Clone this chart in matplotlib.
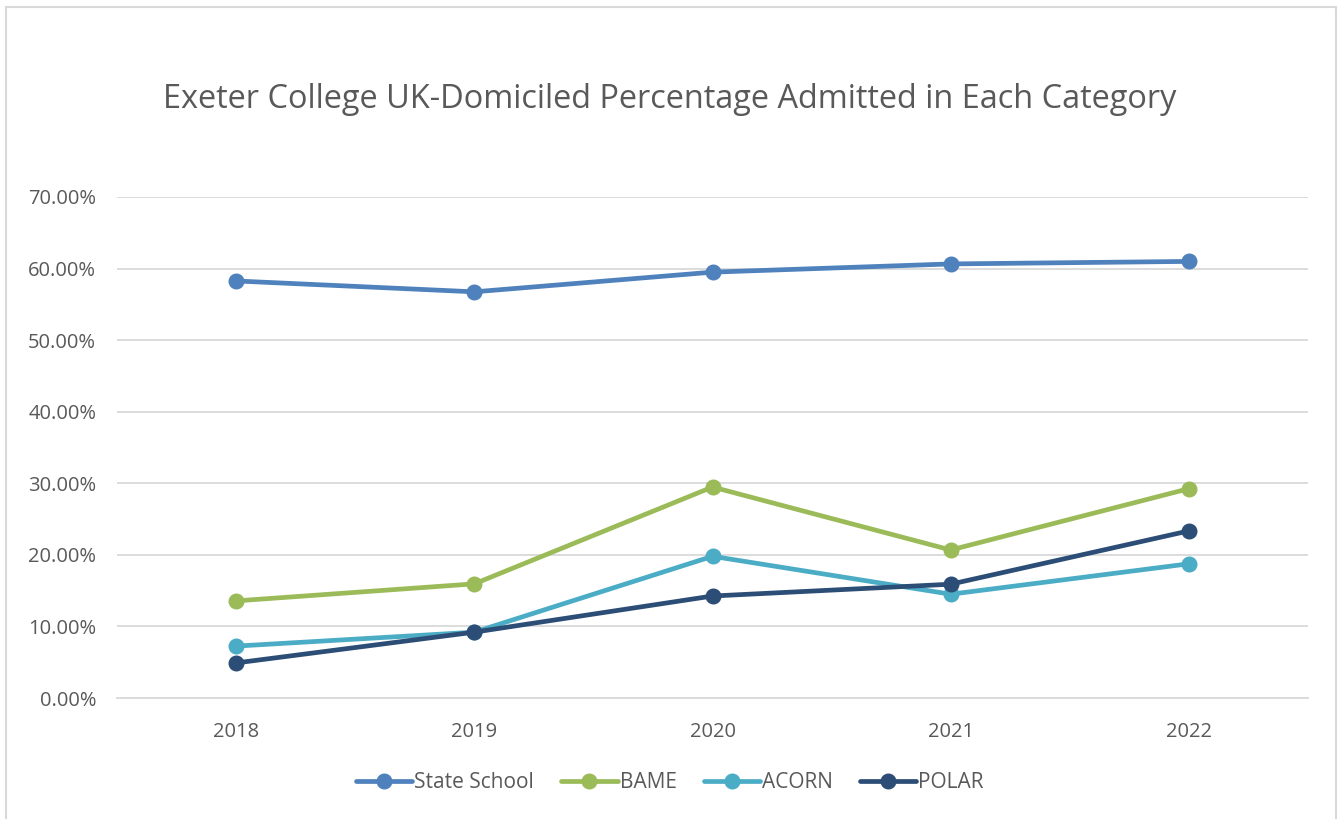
import matplotlib
matplotlib.use("Agg")
import matplotlib.pyplot as plt
from matplotlib.ticker import FuncFormatter, MultipleLocator
from matplotlib.patches import Rectangle

years = ["2018", "2019", "2020", "2021", "2022"]
state_school = [0.5827, 0.5675, 0.5950, 0.6065, 0.6100]
bame = [0.1357, 0.1595, 0.2948, 0.2068, 0.2925]
acorn = [0.0725, 0.0920, 0.1980, 0.1450, 0.1875]
polar = [0.0490, 0.0920, 0.1425, 0.1590, 0.2335]

series = [("State School", state_school, "#4F81BD"),
          ("BAME", bame, "#9BBB59"),
          ("ACORN", acorn, "#4BACC6"),
          ("POLAR", polar, "#2C4D75")]

plt.rcParams['font.family'] = ['Open Sans', 'DejaVu Sans']
text_col = "#595959"

fig = plt.figure(figsize=(13.4, 8.19), dpi=100)
ax = fig.add_axes([117/1340, 1-698/819, (1308-117)/1340, (698-197)/819])

x = list(range(len(years)))
for name, vals, col in series:
    ax.plot(x, vals, color=col, lw=3.4, marker='o', markersize=10.5,
            label=name, solid_capstyle='round', zorder=3)

ax.set_xlim(-0.5, len(years) - 0.5)
ax.set_ylim(0, 0.70)
ax.yaxis.set_major_locator(MultipleLocator(0.10))
ax.yaxis.set_major_formatter(FuncFormatter(lambda v, p: f"{v*100:.2f}%"))
ax.set_xticks(x)
ax.set_xticklabels(years)
ax.grid(axis='y', color='#D9D9D9', lw=1.3)
ax.set_axisbelow(True)
for s in ['top', 'right', 'left']:
    ax.spines[s].set_visible(False)
ax.spines['bottom'].set_color('#D9D9D9')
ax.spines['bottom'].set_linewidth(1.3)
ax.tick_params(axis='both', length=0, labelsize=14.5, colors=text_col)
ax.tick_params(axis='x', pad=17)
ax.tick_params(axis='y', pad=15)

fig.text(0.5, 1-99/819, "Exeter College UK-Domiciled Percentage Admitted in Each Category",
         ha='center', va='center', fontsize=23.4, color=text_col)

leg = fig.legend(loc='center', bbox_to_anchor=(0.5, 1-783/819), ncol=4,
                 frameon=False, fontsize=15, handlelength=2.7, handletextpad=0.1,
                 columnspacing=1.3, labelcolor=text_col)

fig.patches.append(Rectangle((6/1340, -0.01), 1330/1340, 1 - 7/819 + 0.01,
                             transform=fig.transFigure, fill=False,
                             edgecolor='#D9D9D9', lw=1.5))

fig.savefig("out.png", dpi=100, facecolor='white')
